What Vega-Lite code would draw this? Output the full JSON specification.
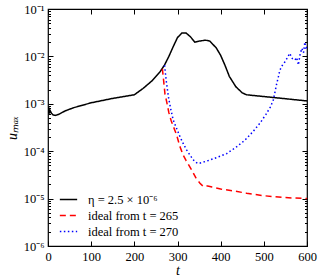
{
  "$schema": "https://vega.github.io/schema/vega-lite/v6.json",
  "width": 259,
  "height": 237,
  "autosize": "none",
  "padding": {"left": 48, "top": 9, "right": 13, "bottom": 34},
  "background": "white",
  "config": {
    "view": {"stroke": "black", "strokeWidth": 1.2},
    "font": "Liberation Serif",
    "axis": {"labelFont": "Liberation Serif", "titleFont": "Liberation Serif", "labelFontSize": 12.5, "titleFontSize": 14, "labelColor": "black", "titleColor": "black", "tickColor": "black", "domain": false, "grid": false, "titleFontWeight": "normal", "titleFontStyle": "italic"}
  },
  "data": {"values": [
    {"t": 0, "u": 0.00062, "s": "η = 2.5 × 10⁻⁶"},
    {"t": 1.5, "u": 0.00085, "s": "η = 2.5 × 10⁻⁶"},
    {"t": 3, "u": 0.00062, "s": "η = 2.5 × 10⁻⁶"},
    {"t": 5, "u": 0.00072, "s": "η = 2.5 × 10⁻⁶"},
    {"t": 8, "u": 0.00063, "s": "η = 2.5 × 10⁻⁶"},
    {"t": 12, "u": 0.00058, "s": "η = 2.5 × 10⁻⁶"},
    {"t": 18, "u": 0.00057, "s": "η = 2.5 × 10⁻⁶"},
    {"t": 25, "u": 0.0006, "s": "η = 2.5 × 10⁻⁶"},
    {"t": 40, "u": 0.00071, "s": "η = 2.5 × 10⁻⁶"},
    {"t": 60, "u": 0.00083, "s": "η = 2.5 × 10⁻⁶"},
    {"t": 100, "u": 0.00105, "s": "η = 2.5 × 10⁻⁶"},
    {"t": 150, "u": 0.0013, "s": "η = 2.5 × 10⁻⁶"},
    {"t": 200, "u": 0.00155, "s": "η = 2.5 × 10⁻⁶"},
    {"t": 220, "u": 0.0021, "s": "η = 2.5 × 10⁻⁶"},
    {"t": 240, "u": 0.003, "s": "η = 2.5 × 10⁻⁶"},
    {"t": 260, "u": 0.0048, "s": "η = 2.5 × 10⁻⁶"},
    {"t": 270, "u": 0.0066, "s": "η = 2.5 × 10⁻⁶"},
    {"t": 280, "u": 0.01, "s": "η = 2.5 × 10⁻⁶"},
    {"t": 290, "u": 0.016, "s": "η = 2.5 × 10⁻⁶"},
    {"t": 300, "u": 0.025, "s": "η = 2.5 × 10⁻⁶"},
    {"t": 310, "u": 0.031, "s": "η = 2.5 × 10⁻⁶"},
    {"t": 320, "u": 0.031, "s": "η = 2.5 × 10⁻⁶"},
    {"t": 330, "u": 0.026, "s": "η = 2.5 × 10⁻⁶"},
    {"t": 340, "u": 0.02, "s": "η = 2.5 × 10⁻⁶"},
    {"t": 350, "u": 0.021, "s": "η = 2.5 × 10⁻⁶"},
    {"t": 365, "u": 0.022, "s": "η = 2.5 × 10⁻⁶"},
    {"t": 375, "u": 0.021, "s": "η = 2.5 × 10⁻⁶"},
    {"t": 390, "u": 0.015, "s": "η = 2.5 × 10⁻⁶"},
    {"t": 400, "u": 0.0105, "s": "η = 2.5 × 10⁻⁶"},
    {"t": 410, "u": 0.0065, "s": "η = 2.5 × 10⁻⁶"},
    {"t": 420, "u": 0.0038, "s": "η = 2.5 × 10⁻⁶"},
    {"t": 435, "u": 0.0023, "s": "η = 2.5 × 10⁻⁶"},
    {"t": 450, "u": 0.0017, "s": "η = 2.5 × 10⁻⁶"},
    {"t": 460, "u": 0.00155, "s": "η = 2.5 × 10⁻⁶"},
    {"t": 600, "u": 0.00115, "s": "η = 2.5 × 10⁻⁶"},
    {"t": 265, "u": 0.0055, "s": "ideal from t = 265"},
    {"t": 268, "u": 0.003, "s": "ideal from t = 265"},
    {"t": 271, "u": 0.0016, "s": "ideal from t = 265"},
    {"t": 275, "u": 0.0011, "s": "ideal from t = 265"},
    {"t": 280, "u": 0.00065, "s": "ideal from t = 265"},
    {"t": 285, "u": 0.00045, "s": "ideal from t = 265"},
    {"t": 290, "u": 0.00034, "s": "ideal from t = 265"},
    {"t": 298, "u": 0.00022, "s": "ideal from t = 265"},
    {"t": 305, "u": 0.00013, "s": "ideal from t = 265"},
    {"t": 313, "u": 0.000083, "s": "ideal from t = 265"},
    {"t": 320, "u": 0.000063, "s": "ideal from t = 265"},
    {"t": 333, "u": 0.00004, "s": "ideal from t = 265"},
    {"t": 342, "u": 0.000028, "s": "ideal from t = 265"},
    {"t": 352, "u": 0.000021, "s": "ideal from t = 265"},
    {"t": 360, "u": 0.000018, "s": "ideal from t = 265"},
    {"t": 370, "u": 0.0000185, "s": "ideal from t = 265"},
    {"t": 380, "u": 0.0000175, "s": "ideal from t = 265"},
    {"t": 400, "u": 0.000016, "s": "ideal from t = 265"},
    {"t": 430, "u": 0.0000145, "s": "ideal from t = 265"},
    {"t": 460, "u": 0.000013, "s": "ideal from t = 265"},
    {"t": 500, "u": 0.0000115, "s": "ideal from t = 265"},
    {"t": 550, "u": 0.0000105, "s": "ideal from t = 265"},
    {"t": 600, "u": 0.00001, "s": "ideal from t = 265"},
    {"t": 270, "u": 0.0065, "s": "ideal from t = 270"},
    {"t": 274, "u": 0.003, "s": "ideal from t = 270"},
    {"t": 279, "u": 0.0014, "s": "ideal from t = 270"},
    {"t": 284, "u": 0.0008, "s": "ideal from t = 270"},
    {"t": 290, "u": 0.00046, "s": "ideal from t = 270"},
    {"t": 298, "u": 0.0003, "s": "ideal from t = 270"},
    {"t": 306, "u": 0.0002, "s": "ideal from t = 270"},
    {"t": 314, "u": 0.00014, "s": "ideal from t = 270"},
    {"t": 321, "u": 0.000107, "s": "ideal from t = 270"},
    {"t": 330, "u": 0.00008, "s": "ideal from t = 270"},
    {"t": 340, "u": 0.00006, "s": "ideal from t = 270"},
    {"t": 348, "u": 0.000055, "s": "ideal from t = 270"},
    {"t": 355, "u": 0.000057, "s": "ideal from t = 270"},
    {"t": 370, "u": 0.000063, "s": "ideal from t = 270"},
    {"t": 390, "u": 0.000073, "s": "ideal from t = 270"},
    {"t": 414, "u": 0.000089, "s": "ideal from t = 270"},
    {"t": 435, "u": 0.00012, "s": "ideal from t = 270"},
    {"t": 456, "u": 0.00017, "s": "ideal from t = 270"},
    {"t": 475, "u": 0.00026, "s": "ideal from t = 270"},
    {"t": 491, "u": 0.00039, "s": "ideal from t = 270"},
    {"t": 505, "u": 0.0006, "s": "ideal from t = 270"},
    {"t": 515, "u": 0.00085, "s": "ideal from t = 270"},
    {"t": 522, "u": 0.0012, "s": "ideal from t = 270"},
    {"t": 526, "u": 0.0018, "s": "ideal from t = 270"},
    {"t": 530, "u": 0.0027, "s": "ideal from t = 270"},
    {"t": 534, "u": 0.0038, "s": "ideal from t = 270"},
    {"t": 537, "u": 0.0051, "s": "ideal from t = 270"},
    {"t": 543, "u": 0.0065, "s": "ideal from t = 270"},
    {"t": 549, "u": 0.0077, "s": "ideal from t = 270"},
    {"t": 555, "u": 0.0095, "s": "ideal from t = 270"},
    {"t": 560, "u": 0.0116, "s": "ideal from t = 270"},
    {"t": 566, "u": 0.009, "s": "ideal from t = 270"},
    {"t": 572, "u": 0.0084, "s": "ideal from t = 270"},
    {"t": 576, "u": 0.0095, "s": "ideal from t = 270"},
    {"t": 580, "u": 0.0066, "s": "ideal from t = 270"},
    {"t": 584, "u": 0.011, "s": "ideal from t = 270"},
    {"t": 588, "u": 0.0148, "s": "ideal from t = 270"},
    {"t": 592, "u": 0.012, "s": "ideal from t = 270"},
    {"t": 595, "u": 0.02, "s": "ideal from t = 270"},
    {"t": 598, "u": 0.014, "s": "ideal from t = 270"},
    {"t": 600, "u": 0.016, "s": "ideal from t = 270"}
  ]},
  "layer": [
    {
      "mark": {"type": "line", "strokeWidth": 1.5, "clip": true},
      "encoding": {
        "x": {"field": "t", "type": "quantitative", "scale": {"domain": [0, 600], "nice": false},
          "axis": {"orient": "bottom", "title": "t", "values": [0, 100, 200, 300, 400, 500, 600], "tickSize": -5, "labelPadding": 9, "titlePadding": 1, "labelFlush": false}},
        "y": {"field": "u", "type": "quantitative", "scale": {"type": "log", "domain": [0.000001, 0.1], "nice": false},
          "axis": {"orient": "left", "title": "uₘₐₓ", "titlePadding": 4,
            "values": [0.000001,0.000002,0.000003,0.000004,0.000005,0.000006,0.000007,0.000008,0.000009,0.00001,0.00002,0.00003,0.00004,0.00005,0.00006,0.00007,0.00008,0.00009,0.0001,0.0002,0.0003,0.0004,0.0005,0.0006,0.0007,0.0008,0.0009,0.001,0.002,0.003,0.004,0.005,0.006,0.007,0.008,0.009,0.01,0.02,0.03,0.04,0.05,0.06,0.07,0.08,0.09,0.1],
            "labelExpr": "abs(log(datum.value)/LN10 - round(log(datum.value)/LN10)) < 0.01 ? '10' + ['⁻⁶','⁻⁵','⁻⁴','⁻³','⁻²','⁻¹'][round(log(datum.value)/LN10)+6] : ''",
            "tickSize": {"condition": {"test": "abs(log(datum.value)/LN10 - round(log(datum.value)/LN10)) < 0.01", "value": -5}, "value": -2.5},
            "labelPadding": 9, "labelFlush": false, "labelOverlap": false}},
        "color": {"field": "s", "type": "nominal",
          "scale": {"domain": ["η = 2.5 × 10⁻⁶", "ideal from t = 265", "ideal from t = 270"], "range": ["black", "#ff0000", "#0000ff"]},
          "legend": {"title": null, "orient": "none", "legendX": 11, "legendY": 181, "symbolType": "stroke", "symbolSize": 300, "symbolStrokeWidth": 1.5, "labelFontSize": 12.5, "labelFont": "Liberation Serif", "labelColor": "black", "labelOffset": 10, "rowPadding": -2, "padding": 0}},
        "strokeDash": {"field": "s", "type": "nominal",
          "scale": {"domain": ["η = 2.5 × 10⁻⁶", "ideal from t = 265", "ideal from t = 270"], "range": [[1, 0], [6, 4], [1.5, 2.5]]},
          "legend": {"title": null, "orient": "none", "legendX": 11, "legendY": 181, "symbolType": "stroke", "symbolSize": 300, "symbolStrokeWidth": 1.5, "labelFontSize": 12.5, "labelFont": "Liberation Serif", "labelColor": "black", "labelOffset": 10, "rowPadding": -2, "padding": 0}}
      }
    },
    {
      "mark": {"type": "point", "opacity": 0},
      "encoding": {
        "x": {"field": "t", "type": "quantitative", "scale": {"domain": [0, 600], "nice": false},
          "axis": {"orient": "top", "title": null, "labels": false, "values": [0, 100, 200, 300, 400, 500, 600], "tickSize": -5}},
        "y": {"field": "u", "type": "quantitative", "scale": {"type": "log", "domain": [0.000001, 0.1], "nice": false},
          "axis": {"orient": "right", "title": null, "labels": false,
            "values": [0.000001,0.000002,0.000003,0.000004,0.000005,0.000006,0.000007,0.000008,0.000009,0.00001,0.00002,0.00003,0.00004,0.00005,0.00006,0.00007,0.00008,0.00009,0.0001,0.0002,0.0003,0.0004,0.0005,0.0006,0.0007,0.0008,0.0009,0.001,0.002,0.003,0.004,0.005,0.006,0.007,0.008,0.009,0.01,0.02,0.03,0.04,0.05,0.06,0.07,0.08,0.09,0.1],
            "tickSize": {"condition": {"test": "abs(log(datum.value)/LN10 - round(log(datum.value)/LN10)) < 0.01", "value": -5}, "value": -2.5}}}
      }
    }
  ],
  "resolve": {"axis": {"x": "independent", "y": "independent"}}
}
